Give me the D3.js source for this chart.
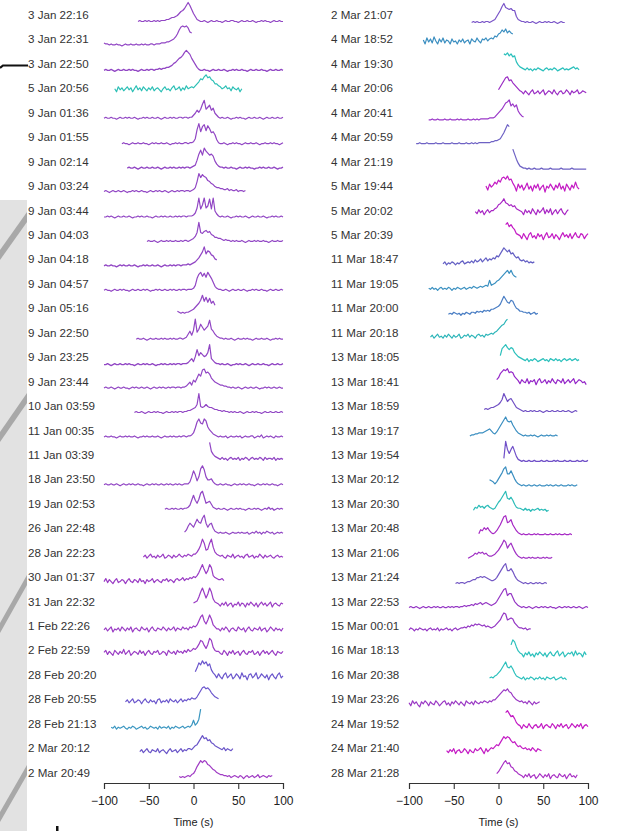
<!DOCTYPE html>
<html>
<head>
<meta charset="utf-8">
<script src="https://cdn.jsdelivr.net/npm/d3@7/dist/d3.min.js"></script>
<style>
  html, body { margin: 0; padding: 0; background: #fff; }
  svg { display: block; }
  text { font-family: "Liberation Sans", Arial, Helvetica, sans-serif; }
</style>
</head>
<body>
<svg id="chart" width="618" height="831"></svg>
<script>
// Burst light curves: each row is one recording, sampled every 2 s,
// flux in normalised units (pre-burst level + burst signal).
const dt = 2;

const labelsLeft = [
  "3 Jan 22:16","3 Jan 22:31","3 Jan 22:50","5 Jan 20:56","9 Jan 01:36","9 Jan 01:55",
  "9 Jan 02:14","9 Jan 03:24","9 Jan 03:44","9 Jan 04:03","9 Jan 04:18","9 Jan 04:57",
  "9 Jan 05:16","9 Jan 22:50","9 Jan 23:25","9 Jan 23:44","10 Jan 03:59","11 Jan 00:35",
  "11 Jan 03:39","18 Jan 23:50","19 Jan 02:53","26 Jan 22:48","28 Jan 22:23","30 Jan 01:37",
  "31 Jan 22:32","1 Feb 22:26","2 Feb 22:59","28 Feb 20:20","28 Feb 20:55","28 Feb 21:13",
  "2 Mar 20:12","2 Mar 20:49"
];
const labelsRight = [
  "2 Mar 21:07","4 Mar 18:52","4 Mar 19:30","4 Mar 20:06","4 Mar 20:41","4 Mar 20:59",
  "4 Mar 21:19","5 Mar 19:44","5 Mar 20:02","5 Mar 20:39","11 Mar 18:47","11 Mar 19:05",
  "11 Mar 20:00","11 Mar 20:18","13 Mar 18:05","13 Mar 18:41","13 Mar 18:59","13 Mar 19:17",
  "13 Mar 19:54","13 Mar 20:12","13 Mar 20:30","13 Mar 20:48","13 Mar 21:06","13 Mar 21:24",
  "13 Mar 22:53","15 Mar 00:01","16 Mar 18:13","16 Mar 20:38","19 Mar 23:26","24 Mar 19:52",
  "24 Mar 21:40","28 Mar 21:28"
];

// time of the first sample of each recording (s)
const startLeft = [-62,-100,-100,-88,-100,-80,-74,-100,-100,-52,-100,-100,-18,-64,-100,-100,
  -66,-100,18,-100,-32,-10,-56,-100,0,-100,-100,2,-76,-92,-60,-16];
const startRight = [-30,-84,6,0,-78,-92,16,-14,-26,8,-62,-78,-56,-76,2,-2,
  -16,-32,6,-10,-28,-22,-34,-48,-100,-100,14,-10,-100,8,-58,-2];

// pre-burst flux level of each recording
const levelLeft = [0,1,0,5,1,0,0,1,0,0,0,0,1.5,0,-1,0,0,0,2,1,1,1.5,2,2,3,2.5,3.5,4.5,4,2,3,1.5];
const levelRight = [-1,4,0.5,2,-0.7,0,-1,4.5,4.3,4.8,2,1,0.5,2,3,6.4,1,1,0,0,0,0,1,0,0.5,2.5,2,2.4,2,3.6,3,2.4];

const fluxLeft = [
  [0,1,0,0,1,0,1,0,0,1,0,1,0,1,1,1,2,2,3,4,4,5,6,8,10,11,13,16,19,16,12,8,5,2,1,0,0,1,0,-1,0,1,0,0,1,0,0,-1,0,1,0,0,1,1,0,0,-1,0,1,0,0,1,0,0,1,0,-1,0,0,1,0,1,0,0,-1,0,1,0,0,1,0,0],
  [2,1,1,0,1,0,0,1,0,0,-1,0,1,0,0,1,0,0,1,0,0,1,0,1,0,0,1,1,0,1,1,1,2,2,2,3,3,4,5,6,8,11,15,18,19,18,19,17,13,12],
  [0,1,0,0,1,0,-1,0,1,0,0,1,0,0,1,0,1,0,0,-1,0,1,0,0,1,0,1,1,0,1,1,2,1,2,2,3,3,4,5,7,8,10,12,13,15,18,20,18,16,12,9,6,3,1,0,0,1,0,0,-1,0,1,0,0,1,0,0,1,0,-1,0,0,1,0,1,0,0,1,0,0,-1,0,1,0,0,1,0,0,1,0,0,-1,0,1,0,0,1,0,0,1,0],
  [1,-2,3,0,2,-1,1,3,0,2,-2,1,4,0,2,-1,3,1,-1,2,0,3,-1,1,2,0,-2,1,3,0,1,-1,2,4,0,1,3,-1,2,0,4,1,2,3,2,4,6,8,11,10,13,15,12,13,10,9,6,6,4,3,1,2,4,1,2,-1,3,1,0,2,-2,1],
  [0,1,0,0,1,0,0,-1,0,1,0,0,1,0,1,0,0,1,0,-1,0,0,1,0,1,0,0,1,0,0,1,0,-1,0,1,0,0,1,0,1,0,0,1,1,0,1,1,0,1,1,3,5,8,6,9,14,18,9,11,13,8,10,5,3,1,0,1,0,0,1,0,-1,0,0,1,0,1,0,0,-1,0,1,0,0,1,0,0,1,0,-1,0,1,0,0,1,0,0,1,0,0,1],
  [0,1,0,0,-1,0,1,0,0,1,0,0,1,0,0,-1,0,1,0,1,0,0,1,0,0,1,0,-1,0,0,1,0,1,0,0,1,1,0,1,1,2,5,14,20,12,17,19,13,18,15,11,12,9,4,1,0,0,1,0,-1,0,0,1,0,1,0,0,-1,0,1,0,0,1,0,0,1,0,-1,0,0,1,0,0,1,0,1,0,0,-1,0,1],
  [0,1,0,0,1,0,-1,0,1,0,0,1,0,0,1,0,0,1,0,-1,0,1,0,0,1,0,1,0,0,1,0,1,0,1,1,0,1,2,3,8,14,18,13,20,17,15,13,14,12,7,4,2,1,1,0,1,0,0,1,0,0,-1,0,1,0,0,1,0,1,0,0,-1,0,0,1,0,1,0,0,1,0,0,1,0,-1,0,0,1],
  [0,1,0,-1,0,1,0,0,1,0,0,1,0,-1,0,0,1,0,1,0,0,1,0,0,-1,0,1,0,0,1,0,1,0,0,1,0,-1,0,1,0,0,1,0,1,1,0,1,1,0,1,2,4,10,18,14,17,15,14,11,10,8,7,5,4,4,3,3,2,2,3,1,2,1,1,2,0,1,1,0,1],
  [0,0,1,0,1,0,-1,0,1,0,0,1,0,0,1,0,-1,0,0,1,0,1,0,0,1,0,0,-1,0,1,0,0,1,0,1,0,0,1,0,0,1,0,1,0,1,1,0,1,1,1,2,4,9,19,8,12,19,9,11,18,8,19,6,3,1,0,1,0,0,1,0,-1,0,0,1,0,1,0,0,1,0,-1,0,1,0,0,1,0,0,1,0,-1,0,0,1,0,1,0,0,1,0],
  [0,1,0,0,1,0,-1,0,1,0,0,1,0,1,0,0,1,0,0,1,0,1,1,0,1,2,3,5,9,19,9,8,10,11,9,10,7,6,4,4,3,3,2,1,2,1,1,0,1,0,1,0,0,1,0,-1,0,1,0,0,1,0,1,0,0,1,0,0,-1,0,1,0,0,1,0,0,1],
  [0,1,0,0,1,0,0,-1,0,1,0,1,0,0,1,0,0,1,0,-1,0,0,1,0,1,0,0,1,0,0,1,0,-1,0,1,0,0,1,0,1,0,1,1,0,1,1,1,2,1,2,3,4,6,8,11,14,19,12,15,14,11,10,7,6],
  [0,1,0,0,-1,0,1,0,0,1,0,1,0,0,-1,0,1,0,0,1,0,0,1,0,1,0,-1,0,0,1,0,1,0,0,1,0,0,1,0,1,0,0,1,0,1,1,0,1,1,1,2,5,12,16,18,14,17,13,18,15,12,8,4,2,1,1,0,0,1,0,-1,0,1,0,0,1,0,0,1,0,-1,0,0,1,0,1,0,0,1,0,0,-1,0,1,0,0,1,0,0,1,0],
  [2,1,0,1,0,1,1,2,3,4,6,8,10,13,18,12,16,11,15,10,12,8],
  [0,1,0,0,1,0,-1,0,1,0,0,1,0,0,1,0,1,0,0,1,0,1,0,0,1,1,0,1,2,5,8,4,9,20,7,10,15,12,9,11,13,19,10,8,5,3,2,1,1,0,1,0,0,1,0,-1,0,1,0,0,1,0,1,0,0,-1,0,1,0,0,1,0,0,1,0,-1,0,0,1,0,1,0,0],
  [0,0,1,0,-1,0,1,0,0,1,0,0,1,0,1,0,0,-1,0,1,0,0,1,0,1,0,0,1,0,-1,0,0,1,0,1,0,0,1,0,1,0,1,1,0,1,1,1,2,4,6,3,8,15,9,12,10,8,9,12,20,6,4,2,1,1,0,1,0,0,1,0,-1,0,0,1,0,1,0,0,1,0,-1,0,1,0,0,1,0,0,1,0,0,-1,0,1,0,0,1,0,0,1],
  [0,1,0,0,1,0,-1,0,1,0,0,1,0,0,-1,0,1,0,1,0,0,1,0,0,1,0,-1,0,1,0,0,1,0,1,0,0,1,0,1,1,0,1,1,0,1,1,2,4,6,3,8,6,10,14,12,18,19,15,16,14,10,8,6,5,4,3,3,2,2,1,1,0,1,0,0,1,0,-1,0,1,0,0,1,0,0,1,0,-1,0,0,1,0,1,0,0,1,0,0,1,0,0],
  [0,1,0,0,1,0,-1,0,1,0,0,1,0,1,0,0,-1,0,1,0,0,1,0,1,0,1,1,0,1,1,2,2,3,4,5,8,19,6,5,6,8,6,5,5,4,3,3,2,2,1,2,1,1,0,1,0,1,0,0,1,0,-1,0,1,0,0,1,0,1,0,0,-1,0,1,0,0,1,0,0,1,0,0,1,0],
  [0,1,0,0,1,0,0,-1,0,1,0,0,1,0,1,0,0,1,0,-1,0,0,1,0,1,0,0,1,0,0,1,0,-1,0,1,0,0,1,0,1,0,0,1,0,1,1,0,1,1,2,4,9,15,18,14,13,18,16,10,7,5,3,2,1,0,1,0,0,1,-1,0,1,0,0,1,0,1,-1,0,1,0,0,1,1,-1,0,1,0,2,-1,0,1,0,1,0,-1,1,0,0,1,0],
  [17,8,5,3,2,1,0,2,0,1,-1,1,2,0,1,0,2,-1,1,0,2,1,-1,1,2,0,1,0,2,1,-1,2,0,1,1,0,2,-1,1,0,1,0],
  [0,1,0,0,1,0,0,1,0,-1,0,1,0,0,1,0,1,0,0,1,0,0,-1,0,1,0,0,1,0,1,0,0,1,0,0,1,0,1,0,0,1,0,1,0,0,1,1,1,3,8,14,10,4,8,16,19,15,8,5,5,6,3,1,0,0,1,0,0,1,0,0,-1,0,1,0,0,1,0,1,0,0,1,0,0,-1,0,1,0,0,1,0,1,0,0,1,0,0,-1,0,1,0],
  [0,1,0,0,1,0,1,0,0,1,0,1,1,2,4,9,14,9,6,10,16,18,12,6,7,8,5,2,1,0,1,0,0,1,0,-1,0,1,0,0,1,0,1,0,0,-1,0,1,0,0,1,0,1,0,-1,0,1,0,2,0,1,-1,0,1,0,1,0],
  [1,3,7,10,8,6,10,14,11,10,15,18,10,6,9,10,5,2,1,0,1,0,0,1,0,-1,0,1,0,0,1,0,1,0,0,1,-1,0,1,0,2,0,1,-1,1,0,2,1,0,1,-1,0,1,0,1,0],
  [0,2,-1,1,3,0,1,-1,2,0,1,3,-1,0,2,1,-1,2,0,1,3,1,0,2,1,3,2,1,3,3,5,8,12,18,14,7,8,14,18,10,5,3,2,1,2,0,-1,2,1,0,3,-1,1,2,0,1,-1,2,3,0,1,2,-1,1,0,3,1,-1,2,0,1,2,0,-1,1,2,0,1,0],
  [0,3,-1,2,0,-2,1,3,-1,0,2,1,-2,1,3,0,-1,2,1,-1,3,0,1,-2,2,0,1,3,-1,1,2,0,-1,2,1,3,0,2,1,-1,2,3,1,2,4,1,3,2,4,3,5,4,6,9,13,17,12,8,11,17,14,6,4,3,2,2,3,1],
  [2,3,4,8,13,17,12,7,11,17,13,6,3,2,1,-1,2,0,3,-1,1,2,-2,1,0,3,-1,2,1,-2,2,0,3,1,-1,2,-2,1,3,0,2,-1,1,3,-2,1,2,0,-1,2,1],
  [0,2,-1,1,3,-2,1,0,2,-1,3,1,-1,2,0,3,-2,1,2,0,-1,3,1,0,2,-2,1,3,0,-1,2,1,0,3,1,-1,2,0,1,3,-1,2,1,0,3,1,2,0,3,2,4,3,5,9,13,15,9,6,10,15,11,5,3,1,1,-1,2,0,3,1,-2,1,2,0,-1,3,1,0,2,-2,1,3,0,-1,2,1,0,3,-1,1,2,-2,0,3,1,-1,2,0,1,-1,2],
  [1,3,-1,2,0,-2,3,1,-1,2,0,4,-1,1,3,-2,0,2,1,-1,3,0,2,-2,1,3,0,-1,2,1,3,-1,0,2,1,-2,3,1,0,2,-1,3,1,2,0,3,1,4,2,3,5,4,6,9,13,12,8,5,9,15,13,6,3,2,2,0,-1,3,1,-2,2,0,3,-1,1,2,-2,1,3,0,-1,2,1,3,-1,0,2,-2,1,3,0,2,-1,1,3,0,-2,2,1,0,2],
  [5,9,14,12,16,13,15,11,13,7,4,2,-1,3,0,-2,2,4,-1,1,3,-2,0,3,1,-2,4,0,1,-3,2,3,-1,1,4,-2,0,3,1,-1,2,-3,1,3,0,-2,2,4,-1,1],
  [0,2,-1,1,3,-1,0,2,1,-2,1,3,0,-1,2,0,1,-2,2,3,-1,1,0,2,-1,3,1,0,2,-1,1,3,0,2,1,3,2,4,3,3,5,8,11,14,15,13,14,12,9,7,5,4,3],
  [1,0,2,-1,1,0,1,2,0,-1,1,0,2,1,-1,0,1,2,0,1,-1,0,2,1,0,1,-1,2,0,1,1,0,2,-1,1,0,2,1,0,1,2,0,1,2,1,3,8,3,5,9,19],
  [0,2,-1,1,3,0,-1,2,1,0,3,-1,1,2,0,-2,1,3,0,1,2,-1,1,3,0,2,1,3,3,2,4,6,7,10,13,16,13,14,11,12,9,8,6,5,4,3,2,4,1,3,2,1,3],
  [1,0,1,0,1,2,1,3,4,7,11,14,17,15,17,16,13,12,10,8,7,5,4,3,3,2,2,1,2,0,1,2,1,0,2,1,-1,1,2,0,1,2,0,1,3,0,1,2,1,0,2,1,2]
];

const fluxRight = [
  [0,1,0,1,0,0,1,0,1,1,0,1,2,3,6,9,12,16,19,15,14,13,14,12,12,6,3,2,1,1,0,1,0,0,1,0,-1,0,1,0,0,1,0,1,0,0,1,0,-1,0,1,0,0],
  [2,-2,4,0,3,-1,5,1,-2,3,0,4,-1,2,1,-2,3,0,1,-2,2,0,3,-1,1,2,-2,3,1,0,4,1,-1,3,2,4,1,3,4,3,6,5,8,9,12,10,13,9,11,9,8],
  [16,15,17,14,16,13,14,8,5,3,2,1,0,2,0,1,-1,1,0,2,1,0,-1,1,2,0,1,0,2,1,-1,0,1,2,0,1,0,1,2,3,1,2,0],
  [3,6,9,12,15,16,12,13,10,8,6,4,2,1,-1,2,0,-2,1,3,-1,0,2,-1,1,3,-2,0,2,1,-1,3,0,-2,1,2,-1,0,3,1,-2,2,0,1,3,-1,0,2,1,0],
  [0,0,1,0,0,1,0,0,0,1,0,0,1,0,0,0,1,0,1,0,0,0,1,0,0,1,0,1,0,1,1,1,1,1,2,2,2,3,5,7,9,11,14,17,18,20,14,16,13,15,9,6,4,3],
  [0,0,1,0,0,0,1,0,0,0,0,1,0,0,0,1,0,0,0,0,1,0,0,0,1,0,0,0,1,0,0,1,0,1,0,1,1,1,1,1,1,1,2,2,3,3,4,5,8,11,15,19,17],
  [20,15,10,6,3,2,1,1,0,1,0,0,1,0,0,0,1,0,0,0,0,1,0,0,0,0,0,1,0,0,0,0,0,1,0,0,0,0,0,0,0,0],
  [2,-2,4,1,3,6,4,8,6,10,11,9,12,8,9,5,2,-3,4,0,3,-2,1,5,-1,2,-3,3,0,4,-2,1,3,-4,2,0,4,1,-2,3,0,5,-1,2,-3,4,1,-2,3,0,6,1,-1],
  [1,-1,3,0,2,-2,1,3,0,2,2,4,5,8,9,11,14,10,9,7,8,6,7,4,3,2,1,-2,3,0,2,-1,4,1,-2,3,0,2,5,-1,3,0,4,-2,1,3,-1,2,4,0,-2,1,3],
  [12,14,10,12,9,7,3,2,1,-2,3,0,-3,2,4,-1,1,-2,3,0,2,-3,1,4,-1,0,3,-2,2,0,-3,1,4,0,2,-1,3,-2,1,4,0,-1,3,2,-2,1,3],
  [0,2,-1,1,0,2,1,-1,1,0,2,3,0,1,2,1,3,1,4,2,3,5,2,4,6,3,5,4,6,5,8,7,10,13,16,14,12,14,10,11,8,6,7,4,3,4,2,3,1,2,1,2],
  [1,0,2,0,1,-1,1,2,0,1,0,2,1,-1,1,0,2,1,0,1,2,0,1,2,1,3,2,1,2,3,2,3,4,3,9,4,5,6,8,9,11,13,15,17,19,16,19,15,13,12],
  [0,1,0,2,1,0,1,-1,1,0,2,1,0,2,2,1,3,2,3,2,4,3,4,3,5,5,6,7,8,10,14,18,15,12,11,14,13,9,6,5,3,3,2,2,1,2,0,1,2,0,1],
  [0,2,-1,1,3,0,1,-1,2,0,3,1,-1,2,0,1,3,-1,0,2,1,3,0,2,1,-1,2,3,1,2,0,3,2,3,4,3,5,6,8,10,12,13,16,18],
  [5,12,14,16,13,11,13,12,8,6,4,3,2,1,0,2,-1,1,0,2,1,-1,0,1,2,0,1,-1,2,1,0,2,0,1,-1,1,2,0,1,2,0,1,2,0,1],
  [2,4,8,10,12,11,13,9,10,9,5,3,1,-2,2,0,-1,3,-2,1,0,2,-3,1,3,-1,0,2,-2,1,-1,3,0,-2,2,1,-1,3,-2,0,2,-1,1,3,-2,0,2,1,-1,0,-3],
  [2,3,2,3,4,4,5,6,7,9,12,18,14,10,12,13,10,7,4,3,2,1,0,1,0,0,1,0,1,0,0,1,0,-1,0,1,0,0,1,0,0,1,0,0,1,0,0,1,0,-1,0,1,0],
  [0,1,1,2,2,3,3,3,4,5,6,7,5,3,2,4,7,10,13,16,19,15,14,15,11,8,5,3,2,1,0,1,0,0,1,0,1,0,-1,0,1,0,0,1,0,1,0,0,1,0],
  [3,20,12,8,12,15,10,5,2,1,0,1,0,0,1,0,0,1,0,0,0,1,0,0,1,0,0,0,1,0,1,0,0,0,1,0,0,1,0,0,0,1,0,0,1,0,0,1],
  [6,5,4,2,4,7,10,13,17,19,12,12,15,11,7,4,2,1,0,1,0,0,1,0,0,1,0,0,1,0,0,0,1,0,1,0,0,1,0,0,1,0,0,0,1,0,1,0,0,1],
  [0,3,2,5,3,4,2,4,5,3,2,1,2,5,8,10,13,16,19,12,11,13,10,6,3,2,2,1,0,2,0,1,-1,1,0,1,2,0,1,0,1,-1,0],
  [1,5,4,7,5,7,4,2,1,2,4,7,10,14,18,19,12,13,15,10,7,4,2,1,0,1,0,0,1,0,0,1,0,1,0,0,0,1,0,0,1,0,0,1,0,1,0,0,1,0,0,1,0],
  [0,1,2,3,5,4,6,5,6,4,5,3,2,2,3,4,6,8,11,14,18,16,10,13,15,11,7,4,2,1,0,1,0,0,1,0,1,0,0,1,0,0,1,0,1,0,0,1],
  [0,1,0,1,1,0,1,2,2,3,4,4,6,6,7,6,7,6,5,4,3,3,4,6,9,12,15,18,20,13,13,15,12,8,5,3,2,1,0,1,0,0,1,0,0,1,0,1,0,0,1,0],
  [0,1,0,0,1,0,-1,0,1,0,0,1,0,0,1,0,1,0,0,1,0,0,1,0,1,0,1,1,0,1,1,2,1,2,2,3,2,4,3,4,5,3,4,5,4,3,2,3,4,6,9,12,15,18,19,12,14,14,10,6,4,2,1,0,1,0,0,1,0,-1,0,1,0,0,1,0,1,0,0,1,0,0,-1,0,1,0,0,1,0,1,0,0,1,0,0,1,0,-1,0,1,0],
  [0,2,1,-1,1,0,2,1,0,1,-1,1,2,0,1,0,2,-1,1,0,1,2,0,1,-1,1,2,0,1,2,2,3,2,4,3,5,4,6,5,6,5,4,5,3,4,3,2,3,4,6,8,10,14,17,16,10,11,12,11,7,5,3,2,2,1,2,0,1,1],
  [10,15,13,8,4,2,1,-2,2,0,3,-1,1,-2,2,0,3,1,-1,2,-2,1,3,0,-1,2,4,-1,1,3,-2,0,2,1,3,-1,4,0,2,1,-2,3,0],
  [1,2,1,3,4,6,8,11,14,17,12,11,13,10,6,3,2,1,0,2,-1,1,0,2,1,-1,1,0,2,0,1,-1,2,1,0,1,2,-1,0,1,2,0,1,-1],
  [1,-2,3,0,2,-1,-3,2,0,3,1,-2,2,0,-1,3,1,-2,0,2,3,-1,1,-2,2,0,3,1,-1,2,0,-2,3,1,0,2,-1,3,1,0,2,1,3,2,1,3,2,4,4,6,8,10,12,14,13,15,12,11,8,6,4,3,2,3,1,2,0,3,1,-1,2,0,1,2],
  [14,16,13,10,11,8,4,2,1,-2,2,0,-1,3,0,-2,1,2,-1,0,3,-2,1,2,0,-1,3,1,-2,2,0,3,-1,1,2,-2,0,3,1,-1,2,0,3,-2,1,2,0],
  [1,-1,2,0,3,-2,1,2,-1,0,3,1,-2,2,0,-1,3,1,2,4,1,-2,3,0,2,4,3,5,7,6,9,12,15,13,15,14,11,9,10,7,5,6,4,3,4,2,3,1,4,2,0,3,2,1],
  [3,5,8,11,14,16,13,14,10,9,6,5,3,2,1,-1,2,0,3,-1,1,2,-2,0,3,1,-1,2,0,3,-2,1,2,0,-1,3,1,0,2,-2,1,3,0,1,-1,2]
];

// line colours per recording
const strokeLeft = [
  "#9146c4","#9146c4","#9146c4","#2bbfb5","#9146c4","#9146c4","#9146c4","#9146c4",
  "#9146c4","#9146c4","#9146c4","#9146c4","#9146c4","#9146c4","#9146c4","#9146c4",
  "#9146c4","#9146c4","#9146c4","#9146c4","#9146c4","#9146c4","#9a3cc4","#9a3cc4",
  "#9a3cc4","#9a3cc4","#9a3cc4","#6a55cc","#6a55cc","#3a96c0","#6a55c8","#a03cc4"
];
const strokeRight = [
  "#7a55c8","#3a8ec0","#2cc0bc","#9a2cc4","#9a38c8","#6e62c4","#6e62c4","#c41cc4",
  "#a826c4","#c41cc4","#6460c4","#3a90c0","#4a7ec4","#2ab4b8","#2cc0bc","#9426c8",
  "#7050c4","#3a8ec0","#7050c8","#3a8ec0","#2cbcb8","#a628c4","#a030c4","#7458c4",
  "#9436c4","#9436c4","#2cc0bc","#2cc0bc","#9a38c4","#c41cc4","#c41cc4","#a830c4"
];

const svg = d3.select("#chart");

// edge of the scanned page on the left
const edge = svg.append("g").attr("class", "page-edge");
edge.append("rect").attr("x", 0).attr("y", 200).attr("width", 27).attr("height", 631).attr("fill", "#e2e2e2");
[[212, 250], [393, 432], [575, 623], [765, 812]].forEach(([a, b]) => {
  edge.append("polygon")
    .attr("points", `27,${a} 27,${a + 10} 0,${b + 10} 0,${b}`)
    .attr("fill", "#a8a8a8");
});
edge.append("rect").attr("x", 0).attr("y", 0).attr("width", 27).attr("height", 200).attr("fill", "#fff");
edge.append("path").attr("d", "M0,68 L3,65.5 L28,65.5").attr("fill", "none")
  .attr("stroke", "#111").attr("stroke-width", 2.2);
edge.append("rect").attr("x", 56).attr("y", 826).attr("width", 2.5).attr("height", 5).attr("fill", "#111");

const row = d3.scaleLinear().domain([0, 31]).range([15, 772.6]);
const fluxY = d3.scaleLinear().domain([0, 20]).range([0, -20]);
const baseOffset = 6.5;

function panel(labels, starts, levels, flux, strokes, xRange, labelX) {
  const x = d3.scaleLinear().domain([-100, 100]).range(xRange);
  const g = svg.append("g");

  g.selectAll("text.row-label")
    .data(labels)
    .join("text")
    .attr("class", "row-label")
    .attr("x", labelX)
    .attr("y", (d, i) => row(i))
    .attr("dy", "0.35em")
    .attr("font-size", 11.6)
    .attr("fill", "#333")
    .text(d => d);

  const line = d3.line()
    .x(d => x(d.t))
    .y(d => d.y);

  const series = flux.map((vals, i) => vals.map((v, k) => ({
    t: starts[i] + k * dt,
    y: row(i) + baseOffset + fluxY(levels[i] + v)
  })));

  g.selectAll("path.trace")
    .data(series)
    .join("path")
    .attr("class", "trace")
    .attr("d", line)
    .attr("fill", "none")
    .attr("stroke", (d, i) => strokes[i])
    .attr("stroke-width", 1.2)
    .attr("stroke-linejoin", "round");

  const axis = d3.axisBottom(x)
    .tickValues([-100, -50, 0, 50, 100])
    .tickSize(6)
    .tickPadding(7);
  const ax = g.append("g")
    .attr("transform", "translate(0,783)")
    .call(axis);
  ax.selectAll("path, line").attr("stroke", "#333").attr("stroke-width", 1.1);
  ax.selectAll("text").attr("font-size", 12).attr("fill", "#222")
    .attr("font-family", "Liberation Sans, Arial, sans-serif");

  g.append("text")
    .attr("x", (xRange[0] + xRange[1]) / 2)
    .attr("y", 825.5)
    .attr("text-anchor", "middle")
    .attr("font-size", 11)
    .attr("fill", "#222")
    .text("Time (s)");
}

panel(labelsLeft, startLeft, levelLeft, fluxLeft, strokeLeft, [104, 283], 28);
panel(labelsRight, startRight, levelRight, fluxRight, strokeRight, [409, 588], 331);
</script>
</body>
</html>
